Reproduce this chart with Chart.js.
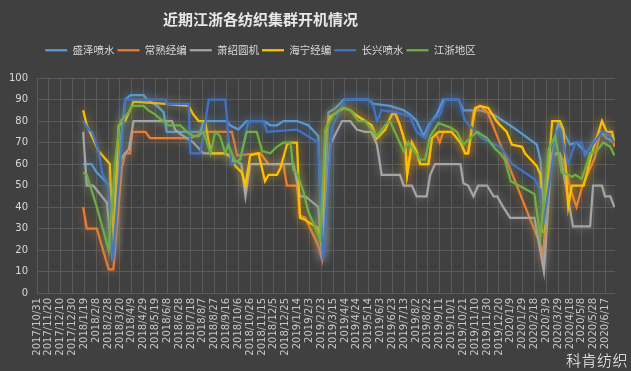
<!DOCTYPE html>
<html>
<head>
<meta charset="utf-8">
<script src="https://cdn.jsdelivr.net/npm/chart.js@4.4.0/dist/chart.umd.min.js"></script>
<style>
    html, body { margin: 0; padding: 0; background: #404040; }
    #wrap { position: relative; width: 631px; height: 371px; }
    #mark { position: absolute; left: 566px; top: 351px; color: #ffffff; font: 15px "Noto Sans CJK SC", sans-serif; font-weight: 300; line-height: 18px; letter-spacing: 0.5px; }
</style>
</head>
<body>
<div id="wrap">
    <canvas id="chart" width="631" height="371"></canvas>
    <div id="mark">科肯纺织</div>
</div>
<script>
// axis range (date axis, one label every 20 days)
const axisStart = '2017/10/31';
const axisEnd = '2020/7/3';
const tickStepDays = 20;

const seriesNames = ['盛泽喷水', '常熟经编', '萧绍圆机', '海宁经编', '长兴喷水', '江浙地区'];
const seriesColors = ['#5B9BD5', '#ED7D31', '#A5A5A5', '#FFC000', '#4472C4', '#70AD47'];

// 盛泽喷水
const shengze = [
    ['2018/1/17', 60], ['2018/1/31', 60], ['2018/2/9', 56], ['2018/2/20', 53], ['2018/3/1', 50], ['2018/3/8', 17],
    ['2018/3/21', 70], ['2018/3/29', 90], ['2018/4/7', 92], ['2018/4/29', 92], ['2018/5/5', 90], ['2018/5/22', 87],
    ['2018/6/2', 84], ['2018/6/7', 75], ['2018/8/3', 75], ['2018/8/8', 80], ['2018/9/17', 80], ['2018/9/22', 78],
    ['2018/10/6', 76], ['2018/10/20', 80], ['2018/11/18', 80], ['2018/11/29', 78], ['2018/12/10', 78], ['2018/12/21', 80],
    ['2019/1/13', 80], ['2019/2/1', 78], ['2019/2/18', 73], ['2019/2/25', 16], ['2019/3/7', 84], ['2019/3/19', 86],
    ['2019/4/2', 90], ['2019/5/14', 90], ['2019/5/22', 88], ['2019/6/19', 87], ['2019/7/12', 85], ['2019/7/23', 83],
    ['2019/8/3', 80], ['2019/8/15', 73], ['2019/8/23', 78], ['2019/9/6', 83], ['2019/9/17', 90], ['2019/10/13', 90],
    ['2019/10/21', 85], ['2019/11/18', 85], ['2019/12/11', 83], ['2019/12/22', 81], ['2020/1/2', 79], ['2020/1/13', 77],
    ['2020/2/22', 69], ['2020/2/28', 62], ['2020/3/4', 43], ['2020/3/29', 79], ['2020/4/7', 75], ['2020/4/18', 69],
    ['2020/4/29', 70], ['2020/5/16', 65], ['2020/6/8', 75], ['2020/6/19', 72], ['2020/7/2', 70]
];

// 常熟经编
const changshu = [
    ['2018/1/17', 40], ['2018/1/23', 30], ['2018/2/9', 30], ['2018/3/1', 11], ['2018/3/9', 11], ['2018/3/23', 58],
    ['2018/3/29', 65], ['2018/4/6', 65], ['2018/4/10', 75], ['2018/5/2', 75], ['2018/5/10', 72], ['2018/7/17', 72],
    ['2018/8/11', 75], ['2018/9/25', 75], ['2018/10/4', 64], ['2018/11/12', 65], ['2018/11/26', 60], ['2018/12/21', 60],
    ['2018/12/27', 50], ['2019/1/13', 50], ['2019/1/18', 36], ['2019/1/27', 35], ['2019/2/18', 22], ['2019/2/24', 16],
    ['2019/3/2', 74], ['2019/3/10', 82], ['2019/4/2', 86], ['2019/4/13', 85], ['2019/4/21', 83], ['2019/5/8', 80],
    ['2019/5/19', 78], ['2019/5/28', 72], ['2019/6/11', 76], ['2019/6/22', 83], ['2019/6/28', 83], ['2019/7/6', 78],
    ['2019/7/15', 69], ['2019/7/18', 55], ['2019/7/26', 70], ['2019/8/3', 65], ['2019/8/9', 60], ['2019/8/23', 60],
    ['2019/8/29', 72], ['2019/9/5', 74], ['2019/9/11', 70], ['2019/9/17', 75], ['2019/10/1', 75], ['2019/10/16', 70],
    ['2019/10/24', 65], ['2019/10/29', 65], ['2019/11/7', 84], ['2019/11/18', 87], ['2019/12/1', 84], ['2020/3/1', 21],
    ['2020/3/4', 17], ['2020/3/13', 63], ['2020/3/29', 65], ['2020/4/7', 62], ['2020/4/18', 49], ['2020/4/29', 40],
    ['2020/5/8', 49], ['2020/5/30', 63], ['2020/6/8', 75], ['2020/6/19', 74], ['2020/6/28', 73], ['2020/7/2', 68]
];

// 萧绍圆机
const xiaoshao = [
    ['2018/1/17', 75], ['2018/1/23', 50], ['2018/2/3', 50], ['2018/2/26', 42], ['2018/3/8', 15], ['2018/3/18', 60],
    ['2018/3/26', 64], ['2018/4/4', 67], ['2018/4/12', 80], ['2018/6/16', 80], ['2018/6/21', 76], ['2018/6/30', 74],
    ['2018/7/22', 70], ['2018/8/8', 65], ['2018/9/14', 65], ['2018/9/28', 62], ['2018/10/11', 60], ['2018/10/18', 45],
    ['2018/10/26', 60], ['2019/1/7', 60], ['2019/1/18', 45], ['2019/1/27', 45], ['2019/2/18', 40], ['2019/2/25', 15],
    ['2019/3/10', 69], ['2019/3/30', 80], ['2019/4/13', 80], ['2019/4/24', 76], ['2019/5/8', 75], ['2019/5/19', 75],
    ['2019/5/28', 69], ['2019/6/5', 55], ['2019/7/6', 55], ['2019/7/12', 50], ['2019/7/26', 50], ['2019/8/3', 45],
    ['2019/8/20', 45], ['2019/8/26', 55], ['2019/9/3', 60], ['2019/10/16', 60], ['2019/10/21', 51], ['2019/10/29', 50],
    ['2019/11/7', 45], ['2019/11/15', 50], ['2019/11/30', 50], ['2019/12/11', 45], ['2019/12/17', 45], ['2019/12/25', 41],
    ['2020/1/8', 35], ['2020/2/18', 35], ['2020/3/5', 10], ['2020/3/18', 65], ['2020/4/1', 65], ['2020/4/11', 50],
    ['2020/4/23', 31], ['2020/5/22', 31], ['2020/5/27', 50], ['2020/6/11', 50], ['2020/6/16', 45], ['2020/6/25', 45],
    ['2020/7/2', 40]
];

// 海宁经编
const haining = [
    ['2018/1/17', 85], ['2018/1/23', 78], ['2018/2/12', 66], ['2018/3/3', 60], ['2018/3/8', 22], ['2018/3/18', 78],
    ['2018/3/29', 80], ['2018/4/12', 89], ['2018/6/5', 88], ['2018/7/14', 87], ['2018/7/22', 83], ['2018/7/31', 80],
    ['2018/8/11', 80], ['2018/8/17', 70], ['2018/8/22', 65], ['2018/9/14', 65], ['2018/9/22', 64], ['2018/10/1', 59],
    ['2018/10/12', 56], ['2018/10/18', 50], ['2018/10/26', 64], ['2018/11/9', 65], ['2018/11/20', 52], ['2018/11/26', 55],
    ['2018/12/10', 55], ['2018/12/16', 58], ['2018/12/27', 69], ['2019/1/2', 70], ['2019/1/13', 70], ['2019/1/18', 35],
    ['2019/1/27', 34], ['2019/2/18', 30], ['2019/2/24', 22], ['2019/3/2', 75], ['2019/3/10', 82], ['2019/4/2', 86],
    ['2019/4/13', 85], ['2019/4/21', 83], ['2019/5/8', 80], ['2019/5/19', 78], ['2019/5/28', 72], ['2019/6/11', 76],
    ['2019/6/22', 83], ['2019/6/28', 84], ['2019/7/6', 78], ['2019/7/15', 70], ['2019/7/18', 55], ['2019/7/26', 70],
    ['2019/8/3', 66], ['2019/8/9', 60], ['2019/8/23', 60], ['2019/8/29', 72], ['2019/9/9', 75], ['2019/10/1', 75],
    ['2019/10/16', 70], ['2019/10/24', 65], ['2019/10/29', 65], ['2019/11/10', 86], ['2019/11/18', 87], ['2019/12/2', 86],
    ['2019/12/16', 80], ['2019/12/22', 78], ['2020/1/2', 75], ['2020/1/11', 69], ['2020/1/28', 68], ['2020/2/2', 65],
    ['2020/2/22', 59], ['2020/2/28', 55], ['2020/3/4', 28], ['2020/3/19', 80], ['2020/4/1', 80], ['2020/4/7', 76],
    ['2020/4/15', 40], ['2020/4/21', 50], ['2020/5/11', 50], ['2020/5/25', 65], ['2020/6/11', 80], ['2020/6/19', 75],
    ['2020/6/28', 75], ['2020/7/2', 70]
];

// 长兴喷水
const changxing = [
    ['2018/1/17', 80], ['2018/1/26', 76], ['2018/2/1', 75], ['2018/2/12', 66], ['2018/2/18', 56], ['2018/3/1', 49],
    ['2018/3/8', 15], ['2018/3/21', 62], ['2018/3/29', 90], ['2018/6/5', 90], ['2018/6/7', 88], ['2018/7/14', 88],
    ['2018/7/17', 65], ['2018/8/3', 65], ['2018/8/17', 90], ['2018/9/14', 90], ['2018/9/20', 70], ['2018/9/25', 60],
    ['2018/10/9', 62], ['2018/10/23', 80], ['2018/11/18', 80], ['2018/11/23', 75], ['2019/1/13', 76], ['2019/2/18', 70],
    ['2019/2/26', 15], ['2019/3/13', 77], ['2019/4/4', 90], ['2019/5/14', 90], ['2019/5/22', 87], ['2019/5/28', 80],
    ['2019/6/5', 85], ['2019/7/1', 84], ['2019/7/23', 82], ['2019/8/3', 75], ['2019/8/17', 72], ['2019/8/29', 80],
    ['2019/9/12', 83], ['2019/9/20', 90], ['2019/10/13', 90], ['2019/10/24', 80], ['2019/11/21', 72], ['2019/12/5', 70],
    ['2019/12/22', 68], ['2019/12/30', 65], ['2020/1/11', 60], ['2020/2/18', 53], ['2020/2/28', 48], ['2020/3/4', 32],
    ['2020/3/27', 75], ['2020/4/1', 76], ['2020/4/15', 60], ['2020/4/27', 70], ['2020/5/8', 70], ['2020/5/13', 64],
    ['2020/6/11', 75], ['2020/6/22', 74], ['2020/7/2', 70]
];

// 江浙地区
const jiangzhe = [
    ['2018/1/17', 56], ['2018/1/23', 55], ['2018/2/9', 40], ['2018/3/1', 20], ['2018/3/12', 61], ['2018/3/18', 76],
    ['2018/3/21', 80], ['2018/4/4', 84], ['2018/4/9', 87], ['2018/4/29', 87], ['2018/5/7', 85], ['2018/5/19', 83],
    ['2018/5/27', 81], ['2018/6/2', 80], ['2018/6/10', 78], ['2018/6/30', 78], ['2018/7/11', 75], ['2018/7/22', 73],
    ['2018/7/31', 73], ['2018/8/8', 75], ['2018/8/20', 65], ['2018/8/28', 75], ['2018/9/5', 73], ['2018/9/14', 65],
    ['2018/9/19', 69], ['2018/10/1', 61], ['2018/10/9', 62], ['2018/10/20', 75], ['2018/11/6', 75], ['2018/11/15', 66],
    ['2018/11/29', 65], ['2018/12/10', 68], ['2018/12/21', 70], ['2019/1/2', 70], ['2019/1/7', 57], ['2019/1/13', 56],
    ['2019/1/24', 47], ['2019/2/1', 38], ['2019/2/21', 25], ['2019/3/2', 76], ['2019/3/16', 83], ['2019/3/30', 86],
    ['2019/4/13', 85], ['2019/4/27', 80], ['2019/5/8', 80], ['2019/5/28', 73], ['2019/6/11', 78], ['2019/6/19', 80],
    ['2019/7/12', 66], ['2019/7/20', 70], ['2019/8/9', 62], ['2019/8/17', 62], ['2019/8/26', 73], ['2019/9/9', 79],
    ['2019/9/29', 77], ['2019/10/10', 75], ['2019/10/21', 69], ['2019/11/1', 72], ['2019/11/13', 75], ['2019/11/30', 72],
    ['2019/12/14', 67], ['2019/12/22', 65], ['2019/12/30', 62], ['2020/1/9', 52], ['2020/1/30', 49], ['2020/2/18', 46],
    ['2020/2/28', 26], ['2020/3/13', 67], ['2020/3/24', 73], ['2020/4/4', 56], ['2020/4/15', 55], ['2020/4/21', 54],
    ['2020/4/27', 55], ['2020/5/8', 53], ['2020/5/22', 65], ['2020/6/2', 66], ['2020/6/13', 70], ['2020/6/25', 68],
    ['2020/7/2', 64]
];

const seriesData = [shengze, changshu, xiaoshao, haining, changxing, jiangzhe];

function toDay(str) {
    const p = str.split('/').map(Number);
    const s = axisStart.split('/').map(Number);
    return Math.round((Date.UTC(p[0], p[1] - 1, p[2]) - Date.UTC(s[0], s[1] - 1, s[2])) / 86400000);
}

function dayLabel(day) {
    const s = axisStart.split('/').map(Number);
    const d = new Date(Date.UTC(s[0], s[1] - 1, s[2]) + day * 86400000);
    return d.getUTCFullYear() + '/' + (d.getUTCMonth() + 1) + '/' + d.getUTCDate();
}

const maxDay = toDay(axisEnd);
const tickDays = [];
for (let t = 0; t <= maxDay; t += tickStepDays) tickDays.push(t);

// Excel style soft glow around each line
const glowPlugin = {
    id: 'glow',
    beforeDatasetDraw(chart, args) {
        const ctx = chart.ctx;
        ctx.save();
        ctx.shadowColor = chart.data.datasets[args.index].borderColor + 'B0';
        ctx.shadowBlur = 10;
        ctx.shadowOffsetX = 0;
        ctx.shadowOffsetY = 0;
    },
    afterDatasetDraw(chart) {
        chart.ctx.restore();
    }
};

// move title + legend a bit to the left and make room under the legend
const headerPlugin = {
    id: 'header',
    beforeLayout(chart) {
        const lg = chart.legend;
        if (lg && !lg._patched) {
            const fit = lg.fit;
            lg.fit = function () {
                fit.call(this);
                this.height = 36;
            };
            lg._patched = true;
        }
    },
    afterLayout(chart) {
        const shift = 47;
        if (chart.titleBlock) { chart.titleBlock.left -= shift; chart.titleBlock.right -= shift; }
        if (chart.legend) { chart.legend.left -= shift; chart.legend.right -= shift; }
    }
};

const ctx = document.getElementById('chart').getContext('2d');
const labelColor = '#D9D9D9';
const gridColor = '#5A5A5A';

new Chart(ctx, {
    type: 'line',
    data: {
        datasets: seriesData.map((s, i) => ({
            label: seriesNames[i],
            data: s.map(p => ({ x: toDay(p[0]), y: p[1] })),
            borderColor: seriesColors[i],
            backgroundColor: seriesColors[i],
            borderWidth: 2.25,
            pointRadius: 0,
            tension: 0,
            fill: false,
            order: seriesData.length - i
        }))
    },
    options: {
        responsive: false,
        animation: false,
        layout: { padding: { left: 0, right: 16, top: 4, bottom: 0 } },
        scales: {
            x: {
                type: 'linear',
                min: 0,
                max: maxDay,
                afterBuildTicks: (scale) => { scale.ticks = tickDays.map(v => ({ value: v })); },
                afterFit: (scale) => { scale.height = 78; },
                grid: { color: gridColor, drawTicks: false },
                border: { display: false },
                ticks: {
                    autoSkip: false,
                    minRotation: 90,
                    maxRotation: 90,
                    padding: 5,
                    color: '#C8C8C8',
                    font: { family: 'DejaVu Sans', size: 10 },
                    callback: (v) => dayLabel(v)
                }
            },
            y: {
                min: 0,
                max: 100,
                afterFit: (scale) => { scale.width = 37; },
                grid: { color: gridColor, drawTicks: false },
                border: { display: false },
                ticks: {
                    stepSize: 10,
                    padding: 9,
                    color: labelColor,
                    font: { family: 'DejaVu Sans', size: 10 }
                }
            }
        },
        plugins: {
            title: {
                display: true,
                text: '近期江浙各纺织集群开机情况',
                color: '#E8E8E8',
                font: { family: '"Noto Sans CJK SC"', size: 15, weight: 'bold' },
                padding: { top: 6, bottom: 14 }
            },
            legend: {
                display: true,
                labels: {
                    usePointStyle: true,
                    pointStyle: 'line',
                    pointStyleWidth: 22,
                    padding: 3,
                    color: labelColor,
                    font: { family: '"Noto Sans CJK SC"', size: 10.5 },
                    sort: (a, b) => a.datasetIndex - b.datasetIndex
                }
            },
            tooltip: { enabled: false }
        }
    },
    plugins: [glowPlugin, headerPlugin]
});
</script>
</body>
</html>
